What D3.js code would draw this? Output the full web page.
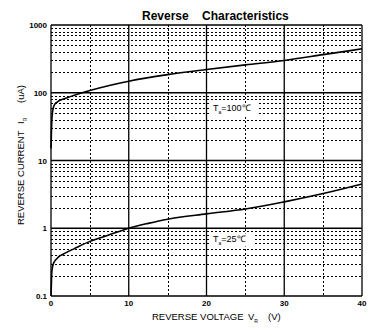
<!DOCTYPE html>
<html><head><meta charset="utf-8">
<script src="https://cdn.jsdelivr.net/npm/d3@7"></script>
<style>body{margin:0;background:#fff;} svg{display:block;font-family:"Liberation Sans",Arial,sans-serif;}</style>
</head><body><svg id="c" width="374" height="332"></svg>
<script>
const xTicks = [0, 10, 20, 30, 40];
const xMinor = [5, 15, 25, 35];
const yTicks = [0.1, 1, 10, 100, 1000];
const yTickLabels = ["0.1", "1", "10", "100", "1000"];
const v100 = [0, 0.05, 0.1, 0.2, 0.3, 0.5, 0.8, 1, 1.5, 2, 3, 5, 7.5, 10, 15, 20, 25, 30, 35, 40];
const i100 = [15, 25, 38, 52, 60, 68, 73, 76, 80, 84, 92, 108, 128, 148, 185, 220, 258, 300, 365, 445];
const v25 = [0, 0.05, 0.1, 0.2, 0.3, 0.5, 0.8, 1, 1.5, 2, 3, 5, 7.5, 10, 12.5, 15, 20, 25, 30, 35, 40];
const i25 = [0.1, 0.15, 0.22, 0.27, 0.3, 0.33, 0.36, 0.38, 0.41, 0.44, 0.5, 0.64, 0.8, 1.0, 1.18, 1.36, 1.63, 1.92, 2.45, 3.25, 4.5];

const svg = d3.select("#c");
const L = 51, R = 362, T = 25, B = 296;
const x = d3.scaleLinear().domain([0, 40]).range([L, R]);
const y = d3.scaleLog().domain([0.1, 1000]).range([B, T]);

const g = svg.append("g");
const minorY = [];
for (let d = 0.1; d < 1000; d *= 10) for (let k = 2; k <= 9; k++) minorY.push(+(d * k).toPrecision(3));
g.selectAll(".my").data(minorY).join("line")
  .attr("x1", L).attr("x2", R).attr("y1", d => Math.round(y(d)) + 0.5).attr("y2", d => Math.round(y(d)) + 0.5)
  .attr("stroke", "#000").attr("stroke-width", 1).attr("stroke-dasharray", "2,2");
g.selectAll(".mx").data(xMinor).join("line")
  .attr("x1", d => Math.round(x(d)) + 0.5).attr("x2", d => Math.round(x(d)) + 0.5).attr("y1", T).attr("y2", B)
  .attr("stroke", "#000").attr("stroke-width", 1).attr("stroke-dasharray", "2,2");
g.selectAll(".My").data(yTicks).join("line")
  .attr("x1", L).attr("x2", R).attr("y1", d => y(d)).attr("y2", d => y(d))
  .attr("stroke", "#000").attr("stroke-width", 1.3);
g.selectAll(".Mx").data(xTicks).join("line")
  .attr("x1", d => x(d)).attr("x2", d => x(d)).attr("y1", T).attr("y2", B)
  .attr("stroke", "#000").attr("stroke-width", 1.3);

const line = d3.line().x(d => x(d[0])).y(d => y(d[1])).curve(d3.curveMonotoneX);
svg.append("path").datum(v100.map((v, i) => [v, i100[i]])).attr("d", line)
  .attr("fill", "none").attr("stroke", "#000").attr("stroke-width", 1.6);
svg.append("path").datum(v25.map((v, i) => [v, i25[i]])).attr("d", line)
  .attr("fill", "none").attr("stroke", "#000").attr("stroke-width", 1.6);

svg.selectAll(".yl").data(yTicks).join("text")
  .attr("x", 47).attr("y", d => y(d) + 3).attr("text-anchor", "end")
  .attr("font-size", 8).attr("font-weight", "bold").text((d, i) => yTickLabels[i]);
svg.selectAll(".xl").data(xTicks).join("text")
  .attr("x", d => x(d)).attr("y", 306).attr("text-anchor", "middle")
  .attr("font-size", 8).attr("font-weight", "bold").text(d => d);

svg.append("text").attr("x", 142).attr("y", 20).attr("font-size", 12).attr("font-weight", "bold")
  .attr("xml:space", "preserve").text("Reverse    Characteristics");

const xt = svg.append("text").attr("x", 152).attr("y", 320).attr("font-size", 9.5);
xt.append("tspan").text("REVERSE VOLTAGE");
xt.append("tspan").attr("x", 248).text("V");
xt.append("tspan").attr("font-size", 5).attr("dy", 3).text("R");
xt.append("tspan").attr("x", 268).attr("dy", -3).text("(V)");

const yt = svg.append("text").attr("transform", "translate(24,0) rotate(-90)").attr("font-size", 9.5);
yt.append("tspan").attr("x", -225).attr("y", 0).text("REVERSE CURRENT");
yt.append("tspan").attr("x", -124).text("I");
yt.append("tspan").attr("font-size", 5).attr("dy", 3).text("R");
yt.append("tspan").attr("x", -103).attr("dy", -3).text("(uA)");

function ann(xp, yp, w, t) {
  svg.append("rect").attr("x", xp - 3).attr("y", yp - 8).attr("width", w).attr("height", 13).attr("fill", "#fff");
  const a = svg.append("text").attr("x", xp).attr("y", yp).attr("font-size", 9);
  a.append("tspan").text("T");
  a.append("tspan").attr("font-size", 5).attr("dy", 3).text("a");
  a.append("tspan").attr("dy", -3).text(t);
}
ann(213, 111, 47, "=100\u2103");
ann(213, 241.5, 43, "=25\u2103");
</script></body></html>
